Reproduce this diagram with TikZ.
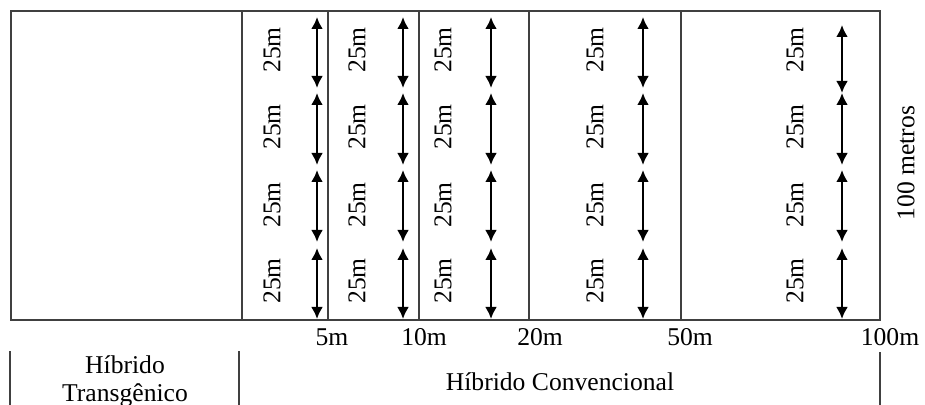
\documentclass[tikz,border=0pt]{standalone}
\usepackage{fontspec}
\setmainfont{Liberation Serif}
\usetikzlibrary{arrows.meta}

\begin{document}
\begin{tikzpicture}[x=0.5pt,y=-0.5pt,
    every node/.style={font=\fontsize{12.8}{14}\selectfont,inner sep=0pt},
    plotline/.style={black!75,line width=0.6pt},
    dist/.style={line width=1.2pt,
      {Latex[length=6pt,width=6pt]}-{Latex[length=6pt,width=6pt]}}]
\useasboundingbox (0,0) rectangle (925,405);
% field and strips
\draw[plotline] (11,11) rectangle (880,320);
\foreach \x in {242,328,419,529,681}
    \draw[plotline] (\x,11) -- (\x,320);
% 25m segments
\foreach \ax/\tx [count=\c] in {317/272,403/357,491/443,643/595}{
  \foreach \ya/\yb/\ym [count=\r] in {17/88/50,93/165/127,170/242/205,248/319/281}{
    \coordinate (s\c-\r) at (\ax,\ya);
    \coordinate (e\c-\r) at (\ax,\yb);
    \draw[dist] (s\c-\r) -- (e\c-\r);
    \node[rotate=90] (m\c-\r) at (\tx,\ym) {25m};
  }
}
\foreach \ya/\yb/\ym [count=\r] in {25/93/50,93/165/127,170/242/205,248/319/281}{
    \coordinate (s5-\r) at (842,\ya);
    \coordinate (e5-\r) at (842,\yb);
    \draw[dist] (s5-\r) -- (e5-\r);
    \node[rotate=90] (m5-\r) at (795,\ym) {25m};
}
\node[rotate=90] (total) at (906,163) {100 metros};
% distances
\node (d5) at (332,337) {5m};
\node (d10) at (424,337) {10m};
\node (d20) at (540,337) {20m};
\node (d50) at (690,337) {50m};
\node (d100) at (890,337) {100m};
% hybrids
\draw[plotline] (10,351) -- (10,405);
\draw[plotline] (239,351) -- (239,405);
\draw[plotline] (880,352) -- (880,405);
\node[align=center] (transg) at (125,381) {Híbrido\\Transgênico};
\node (conv) at (560,382) {Híbrido Convencional};
\end{tikzpicture}
\end{document}
